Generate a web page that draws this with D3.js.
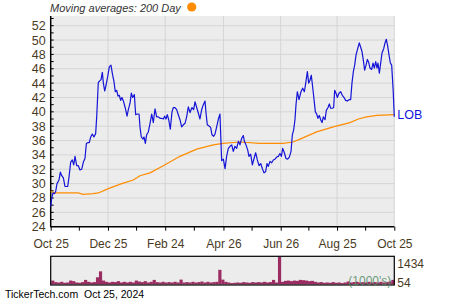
<!DOCTYPE html>
<html><head><meta charset="utf-8">
<script src="https://cdn.jsdelivr.net/npm/d3@7"></script>
<style>body{margin:0;background:#fff}svg{display:block;font-family:Arial,"Liberation Sans",sans-serif}</style>
</head><body><svg id="c" width="450" height="300"></svg>
<script>
// ---- data ----
const startDate = "2023-10-25";
const endDate = "2024-10-25";
const xTickLabels = ["Oct 25","Dec 25","Feb 24","Apr 26","Jun 26","Aug 25","Oct 25"];
const xTickDates = ["2023-10-25","2023-12-25","2024-02-24","2024-04-26","2024-06-26","2024-08-25","2024-10-25"];
const yTicks = [24,26,28,30,32,34,36,38,40,42,44,46,48,50,52];
const ticker = "LOB";
// days since start / closing price
const priceDays = [0,1.0,2.4,3.9,5.3,6.7,8.8,10.3,11.7,13.5,15.2,18.1,19.5,21.3,23.0,24.5,25.9,27.7,29.4,31.2,33.0,34.8,36.5,38.0,39.4,41.1,42.6,44.3,46.1,47.9,49.0,50.7,52.2,53.6,55.0,56.1,57.5,58.9,60.7,62.5,64.2,65.6,67.4,68.8,70.3,71.7,73.1,74.5,75.9,77.7,79.5,81.3,82.7,84.5,85.9,87.3,89.1,90.5,92.3,94.1,95.1,96.5,98.3,99.4,100.8,102.2,104.0,105.8,107.6,109.3,111.1,112.9,114.6,116.4,118.2,120.0,121.4,122.8,124.2,125.7,127.4,129.2,130.6,132.4,134.2,135.9,137.7,139.5,141.3,143.1,144.8,146.6,148.4,150.5,152.3,153.7,155.5,157.3,159.0,160.8,162.6,164.4,165.4,166.8,169.0,170.4,171.8,173.6,175.0,176.8,178.6,180.3,182.1,183.9,185.7,187.4,189.2,191.0,192.8,194.5,196.3,198.1,199.9,201.6,203.4,205.2,206.3,208.0,209.8,211.2,213.0,214.8,216.6,218.3,220.1,221.9,223.7,225.4,227.2,229.0,230.4,231.8,233.6,235.4,237.1,238.9,240.7,242.5,244.2,245.7,247.1,248.9,250.6,252.4,254.2,256.0,257.4,258.8,260.2,261.3,262.7,264.5,266.6,268.4,270.2,271.9,273.4,274.8,276.2,277.6,279.0,280.5,281.9,283.3,284.7,286.1,287.6,289.0,290.4,292.2,293.6,295.4,296.8,298.2,300.0,301.4,302.5,303.9,305.3,307.1,308.9,310.6,312.4,314.2,316.0,317.8,319.5,320.9,322.4,323.8,325.2,327.0,328.7,330.2,331.6,333.0,334.4,335.9,337.3,338.7,340.1,341.9,343.3,344.7,346.2,347.6,348.6,350.1,351.5,352.9,354.7,356.1,357.5,358.9,360.4,361.8,363.2,364.8,366];
const priceValues = [26.8,27.9,28.7,28.6,28.9,30.0,30.5,31.6,31.1,30.8,29.6,29.6,30.9,33.0,33.3,32.6,33.8,32.5,32.5,31.9,32.0,33.0,33.5,35.6,35.7,35.7,36.5,36.9,36.5,37.0,39.3,44.1,44.3,44.5,45.5,44.0,42.9,43.7,44.9,46.3,46.5,45.4,44.2,42.8,43.0,42.2,42.3,41.6,42.0,41.4,40.5,39.4,40.3,41.2,42.6,42.0,42.4,39.6,39.7,39.7,37.9,36.5,36.2,36.5,35.6,36.8,37.2,38.4,39.7,38.5,40.4,39.3,39.3,39.1,39.1,39.0,39.4,39.0,39.6,38.9,37.6,40.0,40.6,40.6,40.3,39.6,38.9,37.9,38.2,38.4,39.3,40.7,39.9,40.6,40.3,41.4,40.6,39.8,39.0,40.3,41.0,41.5,39.9,38.2,38.0,37.8,36.8,36.6,36.9,37.9,39.0,39.7,33.2,33.4,32.1,33.8,34.9,35.2,35.4,34.5,35.2,34.9,35.9,35.4,36.3,36.7,35.9,35.4,34.7,33.8,34.1,32.6,33.5,34.3,33.3,32.5,32.8,32.1,31.5,31.7,32.8,32.4,33.1,32.9,33.3,33.4,33.7,33.8,34.2,33.8,34.9,34.3,33.5,33.4,33.7,34.5,36.8,37.5,38.9,41.0,42.8,41.7,42.8,43.3,42.8,44.2,45.6,44.0,44.4,45.1,43.5,41.7,40.0,39.7,39.1,39.5,38.9,38.5,39.3,38.9,40.2,40.6,41.1,40.5,40.5,40.6,43.0,42.6,42.0,42.6,42.8,42.3,42.0,41.6,41.5,41.7,41.7,44.0,45.6,46.5,47.9,48.8,49.6,49.0,48.4,47.2,45.8,46.5,47.3,46.9,46.1,45.9,46.8,46.1,47.0,46.1,46.8,45.4,46.8,48.2,48.8,49.6,50.1,49.2,47.9,46.8,46.5,43.0,39.3];
// 200-day moving average
const maDays = [0,4.6,29.1,34.7,45,50.7,61.4,75.6,88,95.1,105.8,119.9,137.7,155.5,173.2,183.5,201.6,222.9,247.4,258.1,265.6,283.3,301,318.8,327.7,336.6,347.3,366];
const maValues = [28.9,28.7,28.7,28.5,28.6,28.7,29.3,30.0,30.5,31.1,31.5,32.5,33.8,34.8,35.4,35.6,35.8,35.6,35.6,35.8,36.2,37.2,37.9,38.5,39.0,39.3,39.5,39.6];
// volume (thousands), consecutive periods across the year
const volume = [200,120,100,135,85,100,200,170,100,85,120,235,135,100,120,370,680,200,135,100,135,120,170,100,135,100,135,100,200,150,120,170,100,135,235,120,100,135,100,120,100,135,100,250,100,120,100,135,100,120,150,100,135,100,120,135,760,250,135,100,70,85,100,85,120,100,85,120,100,120,100,135,100,120,235,100,1434,135,185,200,170,200,185,235,220,200,170,185,135,100,120,85,100,85,120,85,100,70,100,150,100,120,135,100,120,100,135,100,120,100,135,100,120,150,235];
const volMaxLabel = "1434";
const volMinLabel = "54";

// ---- drawing ----
const svg = d3.select("#c");
const parse = d3.utcParse("%Y-%m-%d");
const t0 = parse(startDate), t1 = parse(endDate);
const dayDate = d => new Date(t0.getTime() + d * 864e5);
const L = 50.7, R = 394.3, T = 16, B = 226.7;
const x = d3.scaleUtc().domain([t0, t1]).range([L, R]);
const y = d3.scaleLinear().domain([24, 53.35]).range([B, T]);
const brown = "#4a3b1f";

svg.append("rect").attr("x", L).attr("y", T).attr("width", R - L).attr("height", B - T).attr("fill", "#ececec");
// gridlines
svg.append("g").selectAll("line").data(yTicks.filter(v => v > 24)).join("line")
  .attr("x1", L).attr("x2", R).attr("y1", d => y(d)).attr("y2", d => y(d))
  .attr("stroke", "#d5d5d5").attr("stroke-width", 1);
const xDates = xTickDates.map(parse);
svg.append("g").selectAll("line").data(xDates.slice(1)).join("line")
  .attr("x1", d => x(d)).attr("x2", d => x(d)).attr("y1", T).attr("y2", B)
  .attr("stroke", "#d5d5d5").attr("stroke-width", 1);

// y axis
const yAxis = d3.axisLeft(y).tickValues(yTicks).tickSize(0).tickPadding(5);
const gy = svg.append("g").attr("transform", `translate(${L},0)`).call(yAxis);
gy.select(".domain").remove();
gy.selectAll("text").attr("font-size", 12.5).attr("fill", brown).attr("font-family", "Arial, 'Liberation Sans', sans-serif");
// minor ticks (inward)
svg.append("g").selectAll("line").data(d3.range(25, 54)).join("line")
  .attr("x1", L).attr("x2", L + 3).attr("y1", d => y(d)).attr("y2", d => y(d))
  .attr("stroke", "#000").attr("stroke-width", 1);
svg.append("line").attr("x1", L).attr("x2", L).attr("y1", T).attr("y2", B + 0.5).attr("stroke", "#000").attr("stroke-width", 1.5);

// x axis
const xAxis = d3.axisBottom(x).tickValues(xDates).tickFormat((d, i) => xTickLabels[i]).tickSize(4).tickPadding(9);
const gx = svg.append("g").attr("transform", `translate(0,${B})`).call(xAxis);
gx.select(".domain").remove();
gx.selectAll("line").attr("stroke", "#000");
gx.selectAll("text").attr("font-size", 12).attr("fill", brown).attr("font-family", "Arial, 'Liberation Sans', sans-serif");
const minor = d3.pairs(xDates).map(([a, b]) => new Date((a.getTime() + b.getTime()) / 2));
svg.append("g").selectAll("line").data(minor).join("line")
  .attr("x1", d => x(d)).attr("x2", d => x(d)).attr("y1", B).attr("y2", B + 4).attr("stroke", "#000");
svg.append("line").attr("x1", L).attr("x2", R).attr("y1", B).attr("y2", B).attr("stroke", "#000").attr("stroke-width", 1.5);

// lines
const line = d3.line().x(d => x(dayDate(d[0]))).y(d => y(d[1]));
svg.append("path").datum(d3.zip(maDays, maValues)).attr("d", line)
  .attr("fill", "none").attr("stroke", "#ff8c00").attr("stroke-width", 1.2);
svg.append("path").datum(d3.zip(priceDays, priceValues)).attr("d", line)
  .attr("fill", "none").attr("stroke", "#1414d8").attr("stroke-width", 1.2).attr("stroke-linejoin", "round");

svg.append("text").attr("x", R + 3).attr("y", y(priceValues[priceValues.length - 1]) + 2.5)
  .attr("font-size", 12.5).attr("fill", "#1414e0").text(ticker);

// title
svg.append("text").attr("x", 50).attr("y", 12).attr("font-size", 11).attr("font-style", "italic").attr("fill", "#333").text("Moving averages: 200 Day");
svg.append("circle").attr("cx", 191.7).attr("cy", 7).attr("r", 4.6).attr("fill", "#ff8c00");

// volume panel
const VT = 256.3, VB = 285;
svg.append("rect").attr("x", L).attr("y", VT).attr("width", R - L).attr("height", VB - VT).attr("fill", "#ececec");
const vx = d3.scaleBand().domain(d3.range(volume.length)).range([L + 0.5, R]).padding(0);
const vy = d3.scaleLinear().domain([0, 1434]).range([VB - 0.6, VT + 0.6]);
svg.append("g").selectAll("rect").data(volume).join("rect")
  .attr("x", (d, i) => vx(i)).attr("width", vx.bandwidth() + 0.2)
  .attr("y", d => vy(d)).attr("height", d => vy(0) - vy(d)).attr("fill", "#9b2d62");
svg.append("rect").attr("x", L).attr("y", VT).attr("width", R - L).attr("height", VB - VT).attr("fill", "none").attr("stroke", "#000").attr("stroke-width", 1.2);
svg.append("text").attr("x", R - 3).attr("y", 285).attr("text-anchor", "end").attr("font-size", 12).attr("fill", "#4f8a63").attr("fill-opacity", 0.85).text("(1000's)");
svg.append("text").attr("x", R + 3).attr("y", 267.5).attr("font-size", 12).attr("fill", brown).text(volMaxLabel);
svg.append("text").attr("x", R + 3).attr("y", 286.5).attr("font-size", 12).attr("fill", brown).text(volMinLabel);

// footer
svg.append("text").attr("x", 5).attr("y", 298).attr("font-size", 10.5).attr("fill", "#000").attr("xml:space", "preserve").style("white-space", "pre").text("TickerTech.com  Oct 25, 2024");
</script></body></html>
